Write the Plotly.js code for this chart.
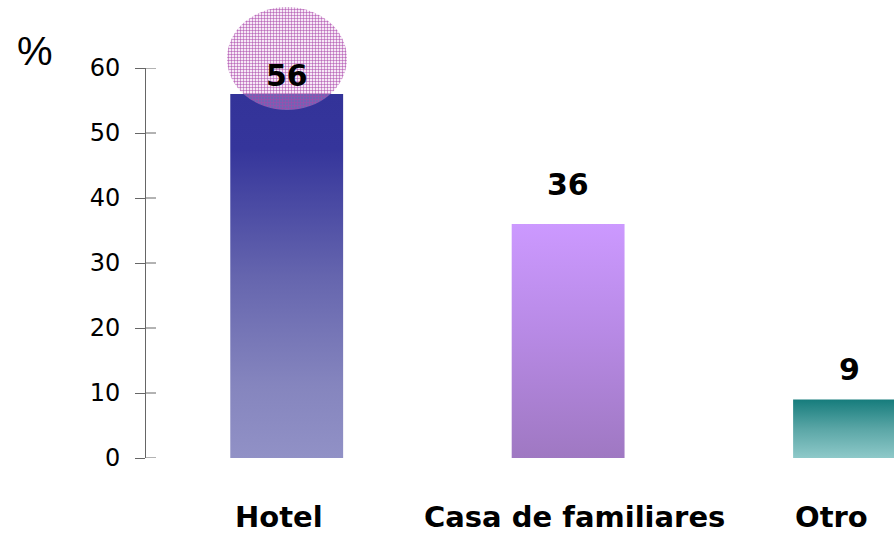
<!DOCTYPE html>
<html>
<head>
<meta charset="utf-8">
<script src="https://cdn.plot.ly/plotly-3.0.1.min.js"></script>
<style>
html,body{margin:0;padding:0;background:#fff;overflow:hidden;}
#chart{width:894px;height:536px;}
</style>
</head>
<body>
<div id="chart"></div>
<script>
// Data
const categories = ['Hotel', 'Casa de familiares', 'Otro'];
const values = [56, 36, 9];
const valueLabels = ['56', '36', '9'];
const yTicks = [0, 10, 20, 30, 40, 50, 60];
const baseColors = ['#5c5cab', '#b58be0', '#4fa3a3'];
const gradients = [
  [['0', '#333399'], ['0.15', '#35359b'], ['0.5', '#6565ae'], ['0.8', '#8585be'], ['1', '#9191c6']],
  [['0', '#cc99ff'], ['0.45', '#b88ae6'], ['1', '#9f78c2']],
  [['0', '#167c7c'], ['0.5', '#5aa6a6'], ['1', '#8ec9c9']]
];
const labelShift = [-1, 20, 11];
const catShift = [-8, 6, -18];

const gd = document.getElementById('chart');

const traces = [{
  type: 'bar',
  x: categories,
  y: values,
  width: 0.401,
  marker: {color: baseColors, line: {width: 0}},
  hoverinfo: 'none',
  cliponaxis: true
}];

const annotations = categories.map((c, i) => ({
  x: c, y: values[i], xref: 'x', yref: 'y',
  text: valueLabels[i], showarrow: false,
  yanchor: 'bottom', yshift: labelShift[i],
  font: {family: 'DejaVu Sans', size: 30, color: '#000', weight: 'bold'}
}));
categories.forEach((c, i) => annotations.push({
  x: c, xref: 'x', yref: 'paper', y: -0.151,
  xanchor: 'center', yanchor: 'middle', xshift: catShift[i],
  text: c, showarrow: false, borderpad: 0,
  font: {family: 'DejaVu Sans', size: 29, color: '#000', weight: 'bold'}
}));
annotations.push({
  xref: 'paper', yref: 'paper', x: -0.148, y: 1.043,
  xanchor: 'center', yanchor: 'middle',
  text: '%', showarrow: false,
  font: {family: 'Liberation Sans', size: 40, color: '#000'}
});

const tickShapes = yTicks.map(t => ({
  type: 'line', xref: 'paper', yref: 'y',
  x0: 0, x1: 10 / 748, y0: t, y1: t,
  line: {color: '#666', width: 1}, layer: 'above'
}));

const layout = {
  width: 894, height: 536,
  margin: {l: 146, r: 0, t: 68, b: 78, pad: 0},
  paper_bgcolor: '#fff', plot_bgcolor: 'rgba(0,0,0,0)',
  showlegend: false,
  xaxis: {
    type: 'category', range: [-0.5, 2.158],
    showline: false, showgrid: false, zeroline: false, ticks: '',
    showticklabels: false
  },
  yaxis: {
    range: [0, 60], tickvals: yTicks, ticktext: yTicks.map(String),
    showline: true, linecolor: '#666', linewidth: 1,
    ticks: 'outside', ticklen: 10, tickcolor: '#666', tickwidth: 1,
    showgrid: false, zeroline: false, ticklabelstandoff: 10,
    tickfont: {family: 'DejaVu Sans', size: 24, color: '#000'}
  },
  shapes: [{
    type: 'circle', xref: 'paper', yref: 'paper',
    x0: 0.1083, x1: 0.2687, y0: 0.8923, y1: 1.1564,
    fillcolor: 'rgba(200,130,200,0.5)', line: {width: 0}, layer: 'above'
  }].concat(tickShapes),
  annotations: annotations
};

Plotly.newPlot(gd, traces, layout, {staticPlot: true}).then(() => {
  const ns = 'http://www.w3.org/2000/svg';
  const svg = gd.querySelector('svg.main-svg');
  let defs = svg.querySelector('defs');
  if (!defs) { defs = document.createElementNS(ns, 'defs'); svg.insertBefore(defs, svg.firstChild); }
  gradients.forEach((stops, i) => {
    const lg = document.createElementNS(ns, 'linearGradient');
    lg.setAttribute('id', 'barGrad' + i);
    lg.setAttribute('x1', '0'); lg.setAttribute('y1', '0');
    lg.setAttribute('x2', '0'); lg.setAttribute('y2', '1');
    stops.forEach(s => {
      const st = document.createElementNS(ns, 'stop');
      st.setAttribute('offset', s[0]);
      st.setAttribute('stop-color', s[1]);
      lg.appendChild(st);
    });
    defs.appendChild(lg);
  });
  const pat = document.createElementNS(ns, 'pattern');
  pat.setAttribute('id', 'gridPat');
  pat.setAttribute('patternUnits', 'userSpaceOnUse');
  pat.setAttribute('width', '3'); pat.setAttribute('height', '3');
  const bg = document.createElementNS(ns, 'rect');
  bg.setAttribute('width', '3'); bg.setAttribute('height', '3');
  bg.setAttribute('fill', 'rgba(230,190,230,0.35)');
  pat.appendChild(bg);
  const h = document.createElementNS(ns, 'rect');
  h.setAttribute('width', '3'); h.setAttribute('height', '1');
  h.setAttribute('fill', 'rgba(170,70,170,0.5)');
  pat.appendChild(h);
  const v = document.createElementNS(ns, 'rect');
  v.setAttribute('width', '1'); v.setAttribute('height', '3');
  v.setAttribute('fill', 'rgba(170,70,170,0.5)');
  pat.appendChild(v);
  defs.appendChild(pat);

  gd.querySelectorAll('.bars .point path').forEach((p, i) => {
    p.style.fill = 'url(#barGrad' + i + ')';
    p.style.fillOpacity = 1;
  });
  const ell = gd.querySelector('.layer-above .shapelayer path');
  if (ell) { ell.style.fill = 'url(#gridPat)'; ell.style.fillOpacity = 1; }
});
</script>
</body>
</html>
